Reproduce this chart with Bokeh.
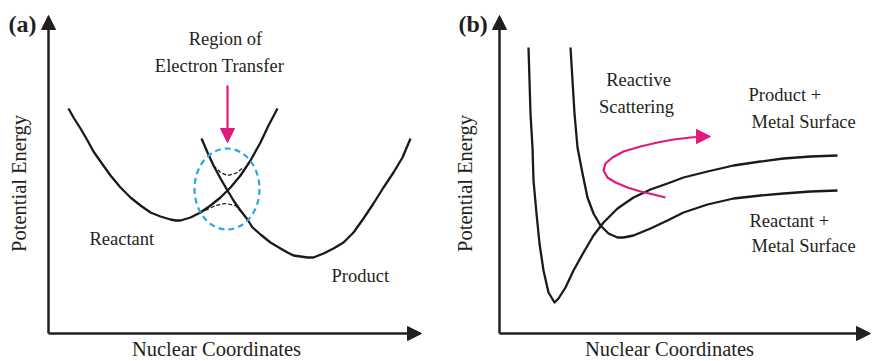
import math
from bokeh.plotting import figure
from bokeh.layouts import row
from bokeh.models import Range1d, Arrow, NormalHead, Label
from bokeh.embed import file_html
from bokeh.resources import INLINE

# ---------------- data (origin at each axis corner) ----------------
# Panel (a): two parabolic potential energy curves
reactant_x = [20, 25, 32, 39, 45, 52, 62, 72, 82, 92, 102, 112, 122, 127, 132, 142, 152, 162, 172, 182, 192, 202, 212, 220, 229]
reactant_y = [225, 216, 205, 193, 182, 172, 158, 146, 136, 128, 121, 117, 114, 113, 113, 116, 121, 128, 136, 146, 158, 173, 191, 208, 225]
product_x = [153, 159, 165, 172, 179, 185, 192, 199, 204, 212, 222, 232, 239, 245, 252, 259, 265, 275, 285, 295, 305, 315, 325, 335, 345, 354, 362]
product_y = [195, 181, 168, 155, 143, 133, 123, 114, 106, 99, 91, 85, 81, 78, 77, 76, 76, 80, 85, 91, 101, 115, 130, 146, 161, 176, 195]
upper_adiab_x = [165, 172, 179, 187, 195]
upper_adiab_y = [168, 161, 158, 160, 166]
lower_adiab_x = [157, 167, 177, 187, 195]
lower_adiab_y = [123, 128, 130, 128, 119]
region_center = (178.5, 144.5)
region_size = (65, 81)
et_arrow = (179, 248, 179, 191)

# Panel (b): two Morse-like curves and the scattering path
well_x = [29, 30, 31, 33, 34, 37, 40, 44, 49, 55, 59, 66, 74, 84, 94, 104, 118, 134, 151, 168, 184, 208, 234, 261, 284, 311, 338]
well_y = [286, 253, 220, 186, 153, 120, 90, 63, 41, 31, 35, 46, 63, 81, 98, 111, 125, 136, 144, 150, 156, 162, 168, 172, 175, 177, 178]
react_x = [71, 73, 75, 78, 83, 88, 94, 101, 109, 118, 124, 134, 151, 168, 184, 208, 234, 261, 284, 311, 338]
react_y = [286, 253, 220, 186, 160, 136, 120, 108, 100, 96, 96, 98, 105, 113, 121, 129, 135, 138, 140, 142, 143]
scatter_x = [166, 154, 141, 128, 116, 108, 104, 106, 113, 124, 141, 158, 174, 191, 204]
scatter_y = [136, 139, 142, 146, 151, 156, 163, 170, 176, 182, 187, 191, 194, 196, 197]
scatter_tip = (211, 197)

FONT = "Liberation Serif"
INK = "#231F20"
CURVE = "#1A1A1A"
MAGENTA = "#E0197D"
CYAN = "#29A9DF"


def base_fig(w, x0, x1):
    p = figure(width=w, height=361, x_range=Range1d(x0, x1), y_range=Range1d(-28, 333),
               output_backend="svg", toolbar_location=None, min_border=0,
               background_fill_color="white", border_fill_color="white")
    p.outline_line_color = None
    p.xgrid.visible = False
    p.ygrid.visible = False
    p.xaxis.visible = False
    p.yaxis.visible = False
    return p


def axes(p, xmax, ytop):
    for xe, ye in ((xmax, 0), (0, ytop)):
        p.add_layout(Arrow(x_start=0, y_start=0, x_end=xe, y_end=ye, line_width=2.5, line_color=INK,
                           end=NormalHead(size=14, fill_color=INK, line_color=INK, line_width=1)))


def lab(p, x, y, t, size="18.5px", align="left", angle=0.0, bold=False):
    p.add_layout(Label(x=x, y=y, text=t, text_font=FONT, text_font_size=size, text_color=INK,
                       text_align=align, text_baseline="alphabetic", angle=angle,
                       text_font_style="bold" if bold else "normal"))


# ---------------- panel (a) ----------------
pa = base_fig(444, -48, 396)
axes(pa, 373, 318)
pa.line(reactant_x, reactant_y, line_width=2.3, line_color=CURVE, line_join="round")
pa.line(product_x, product_y, line_width=2.3, line_color=CURVE, line_join="round")
pa.line(upper_adiab_x, upper_adiab_y, line_width=1.2, line_color=CURVE, line_dash="4 2")
pa.line(lower_adiab_x, lower_adiab_y, line_width=1.2, line_color=CURVE, line_dash="4 2")
pa.ellipse(x=[region_center[0]], y=[region_center[1]], width=region_size[0], height=region_size[1],
           fill_color=None, line_color=CYAN, line_width=2.2, line_dash="6 4")
pa.add_layout(Arrow(x_start=et_arrow[0], y_start=et_arrow[1], x_end=et_arrow[2], y_end=et_arrow[3],
                    line_width=2.2, line_color=MAGENTA,
                    end=NormalHead(size=14, fill_color=MAGENTA, line_color=MAGENTA, line_width=1)))
lab(pa, -40, 310, "(a)", size="24px", bold=True)
lab(pa, 177, 295, "Region of", align="center")
lab(pa, 171, 268, "Electron Transfer", align="center")
lab(pa, 41, 95, "Reactant")
lab(pa, 283, 58, "Product")
lab(pa, -30, 150, "Potential Energy", size="20.5px", align="center", angle=math.pi / 2)
lab(pa, 168, -15, "Nuclear Coordinates", size="20.5px", align="center")

# ---------------- panel (b) ----------------
pb = base_fig(428, -55, 373)
axes(pb, 371, 318)
pb.line(well_x, well_y, line_width=2.3, line_color=CURVE, line_join="round")
pb.line(react_x, react_y, line_width=2.3, line_color=CURVE, line_join="round")
pb.line(scatter_x, scatter_y, line_width=2.2, line_color=MAGENTA, line_join="round")
pb.add_layout(Arrow(x_start=scatter_x[-1], y_start=scatter_y[-1], x_end=scatter_tip[0], y_end=scatter_tip[1],
                    line_width=2.2, line_color=MAGENTA,
                    end=NormalHead(size=14, fill_color=MAGENTA, line_color=MAGENTA, line_width=1)))
lab(pb, -41, 310, "(b)", size="24px", bold=True)
lab(pb, 139, 254, "Reactive", align="center")
lab(pb, 137, 227, "Scattering", align="center")
lab(pb, 249, 239, "Product +")
lab(pb, 252, 212, "Metal Surface")
lab(pb, 250, 113, "Reactant +")
lab(pb, 252, 88, "Metal Surface")
lab(pb, -35, 150, "Potential Energy", size="20.5px", align="center", angle=math.pi / 2)
lab(pb, 170, -15, "Nuclear Coordinates", size="20.5px", align="center")

layout = row(pa, pb)
open("out.html", "w").write(file_html(layout, INLINE))
